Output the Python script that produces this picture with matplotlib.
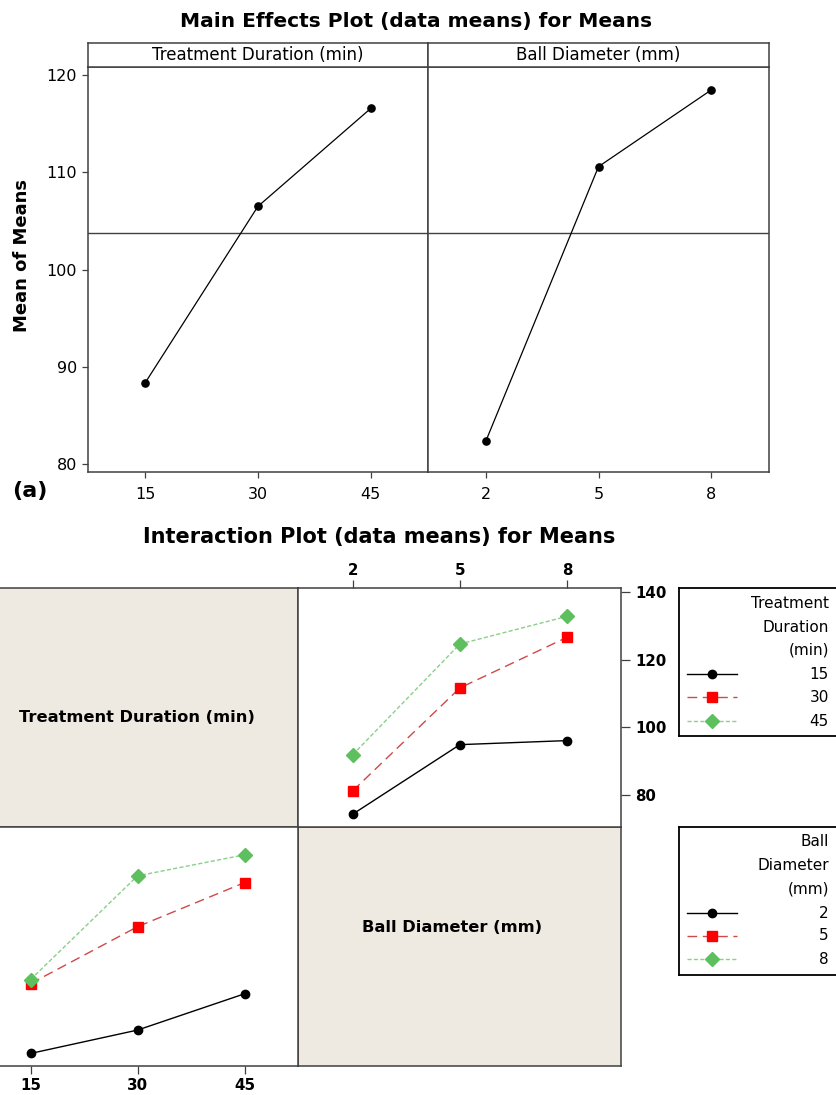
import numpy as np
import matplotlib
matplotlib.use("Agg")
import matplotlib.pyplot as plt

# ---------------- data ----------------
durations = [15, 30, 45]          # Treatment Duration (min)
diameters = [2, 5, 8]             # Ball Diameter (mm)

# main effects (mean of means)
dur_means = [88.3, 106.5, 116.6]
dia_means = [82.3, 110.6, 118.5]

# interaction: mean response for each duration across ball diameters 2, 5, 8
dur15_vals = [74.3, 94.9, 96.1]
dur30_vals = [81.2, 111.7, 126.7]
dur45_vals = [91.9, 124.7, 132.9]

me_yticks = [80, 90, 100, 110, 120]
int_yticks = [80, 100, 120, 140]

# ---------------- layout helpers ----------------
W, H = 837, 1095
fig = plt.figure(figsize=(W / 100, H / 100), dpi=100)


def rect(x0, y0, x1, y1):
    return [x0 / W, 1 - y1 / H, (x1 - x0) / W, (y1 - y0) / H]


def fx(x):
    return x / W


def fy(y):
    return 1 - y / H


SPINE = "#404040"
SHADE = "#EEEAE1"

# ---------------- Main effects plot ----------------
fig.text(fx(416), fy(26.7), "Main Effects Plot (data means) for Means",
         ha="center", va="baseline", fontsize=14.5, fontweight="bold")

grand = np.mean(dur_means)
panels = [("Treatment Duration (min)", durations, dur_means, 87.5, 428.3),
          ("Ball Diameter (mm)", diameters, dia_means, 428.3, 768.7)]
for i, (name, levels, means, x0, x1) in enumerate(panels):
    ax = fig.add_axes(rect(x0, 66.7, x1, 472.3))
    pos = np.arange(len(levels))
    ax.plot(pos, means, color="black", lw=0.9, marker="o", ms=5.2,
            mfc="black", mec="black", zorder=3)
    ax.axhline(grand, color="#404040", lw=1.0, zorder=2)
    ax.set_xlim(-0.51, 2.51)
    ax.set_ylim(79.1, 120.9)
    ax.set_xticks(pos)
    ax.set_xticklabels([str(v) for v in levels])
    ax.set_yticks(me_yticks)
    ax.tick_params(axis="x", direction="out", length=4.5, width=0.9,
                   pad=6, labelsize=11.5, color=SPINE)
    ax.tick_params(axis="y", direction="out", length=4, width=0.9,
                   pad=3.5, labelsize=11.5, color=SPINE)
    if i == 1:
        ax.tick_params(axis="y", left=False, labelleft=False)
    for s in ax.spines.values():
        s.set_color(SPINE)
        s.set_linewidth(1.1)
    hx = fig.add_axes(rect(x0, 43.3, x1, 66.7))
    hx.set_xticks([])
    hx.set_yticks([])
    for s in hx.spines.values():
        s.set_color(SPINE)
        s.set_linewidth(1.1)
    hx.text(0.5, 0.5, name, ha="center", va="center", fontsize=12,
            transform=hx.transAxes)

fig.text(fx(22.5), fy(256), "Mean of Means", rotation=90, ha="center",
         va="center", fontsize=13, fontweight="bold")
fig.text(fx(12), fy(497), "(a)", ha="left", va="baseline", fontsize=16,
         fontweight="bold")

# ---------------- Interaction plot ----------------
fig.text(fx(379), fy(543), "Interaction Plot (data means) for Means",
         ha="center", va="baseline", fontsize=15, fontweight="bold")

styles = [dict(color="black", ls="-", marker="o", mfc="black", mec="black", ms=6),
          dict(color="#D04848", ls=(0, (7, 4)), marker="s", mfc="#FF0000",
               mec="#FF0000", ms=6.8),
          dict(color="#8ACF8A", ls=(0, (3, 1.6)), marker="D", mfc="#5DBF5D",
               mec="#5DBF5D", ms=7)]

dur_series = [dur15_vals, dur30_vals, dur45_vals]
dia_series = [list(col) for col in zip(*dur_series)]

YL = (70.6, 141.2)
XL = (-0.51, 2.5)

# top-left shaded label cell
axTL = fig.add_axes(rect(-24, 588.3, 298, 826.7), facecolor=SHADE)
axTL.set_xticks([]); axTL.set_yticks([])
for s in axTL.spines.values():
    s.set_color(SPINE); s.set_linewidth(1.1)
fig.text(fx(137), fy(717), "Treatment Duration (min)", ha="center",
         va="center", fontsize=11.7, fontweight="bold")

# bottom-right shaded label cell
axBR = fig.add_axes(rect(298, 826.7, 620.7, 1066), facecolor=SHADE)
axBR.set_xticks([]); axBR.set_yticks([])
for s in axBR.spines.values():
    s.set_color(SPINE); s.set_linewidth(1.1)
fig.text(fx(452), fy(928), "Ball Diameter (mm)", ha="center", va="center",
         fontsize=11.7, fontweight="bold")

# top-right: x = ball diameter, lines = treatment duration
axTR = fig.add_axes(rect(298, 588.3, 620.7, 826.7))
pos = np.arange(3)
for vals, st in zip(dur_series, styles):
    axTR.plot(pos, vals, lw=1.0, **st)
axTR.set_xlim(*XL); axTR.set_ylim(*YL)
axTR.set_xticks(pos); axTR.set_xticklabels([str(v) for v in diameters])
axTR.set_yticks(int_yticks)
axTR.xaxis.set_ticks_position("top")
axTR.yaxis.set_ticks_position("right")
axTR.tick_params(axis="x", direction="out", length=5.5, width=0.9, pad=2,
                 labelsize=10.8, color=SPINE)
axTR.tick_params(axis="y", direction="out", length=6.5, width=0.9, pad=4,
                 labelsize=10.8, color=SPINE)
for lab in axTR.get_xticklabels() + axTR.get_yticklabels():
    lab.set_fontweight("bold")

# bottom-left: x = treatment duration, lines = ball diameter
axBL = fig.add_axes(rect(-24, 826.7, 298, 1066))
for vals, st in zip(dia_series, styles):
    axBL.plot(pos, vals, lw=1.0, **st)
axBL.set_xlim(*XL); axBL.set_ylim(*YL)
axBL.set_xticks(pos); axBL.set_xticklabels([str(v) for v in durations])
axBL.set_yticks([])
axBL.tick_params(axis="x", direction="out", length=5.5, width=0.9, pad=3,
                 labelsize=10.8, color=SPINE)
for lab in axBL.get_xticklabels():
    lab.set_fontweight("bold")

for a in (axTR, axBL):
    for s in a.spines.values():
        s.set_color(SPINE); s.set_linewidth(1.1)


# legends drawn in their own boxes
def legend_box(y0, y1, title_lines, levels, title_ys, item_ys):
    lg = fig.add_axes(rect(679, y0, 852, y1))
    lg.set_xlim(679, 852)
    lg.set_ylim(y1, y0)
    lg.set_xticks([]); lg.set_yticks([])
    for s in lg.spines.values():
        s.set_color("black"); s.set_linewidth(1.3)
    for t, ty in zip(title_lines, title_ys):
        lg.text(829, ty, t, ha="right", va="center", fontsize=11)
    for lev, iy, st in zip(levels, item_ys, styles):
        lg.plot([687, 737], [iy, iy], lw=1.0, color=st["color"], ls=st["ls"])
        lg.plot([712], [iy], ls="none", marker=st["marker"], ms=st["ms"],
                mfc=st["mfc"], mec=st["mec"])
        lg.text(829, iy, str(lev), ha="right", va="center", fontsize=11)


legend_box(588, 736, ["Treatment", "Duration", "(min)"], durations,
           [603, 627, 650], [674, 697, 721])
legend_box(827, 975, ["Ball", "Diameter", "(mm)"], diameters,
           [841, 865, 889], [913, 936, 959])

fig.savefig("out.png", dpi=100)
